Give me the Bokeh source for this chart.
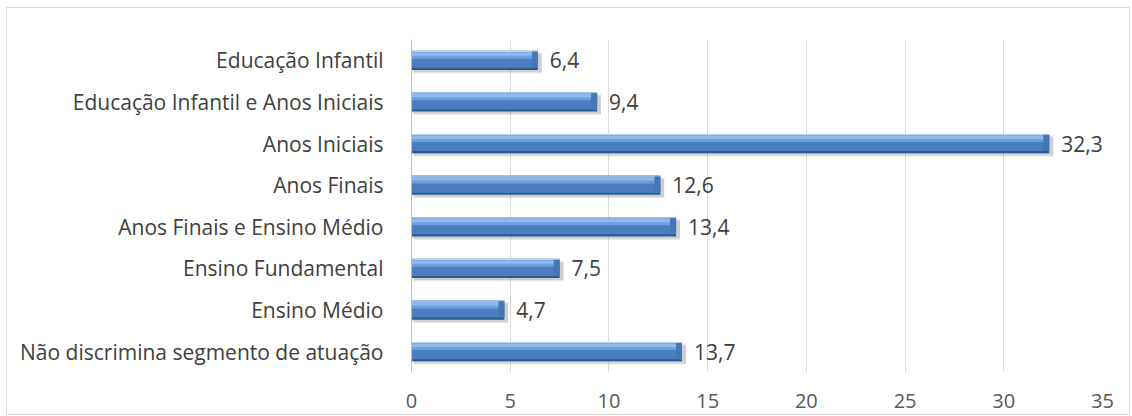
from bokeh.plotting import figure
from bokeh.models import ColumnDataSource, FactorRange, Range1d, FixedTicker
from bokeh.transform import dodge
from bokeh.embed import file_html
from bokeh.resources import INLINE
from bokeh.core.properties import value

categories = [
    "Educação Infantil",
    "Educação Infantil e Anos Iniciais",
    "Anos Iniciais",
    "Anos Finais",
    "Anos Finais e Ensino Médio",
    "Ensino Fundamental",
    "Ensino Médio",
    "Não discrimina segmento de atuação",
]
values = [6.4, 9.4, 32.3, 12.6, 13.4, 7.5, 4.7, 13.7]
labels = ["6,4", "9,4", "32,3", "12,6", "13,4", "7,5", "4,7", "13,7"]
x_ticks = [0, 5, 10, 15, 20, 25, 30, 35]

src = ColumnDataSource(dict(
    cat=categories,
    val=values,
    lab=labels,
    shadow_right=[v + 0.2 for v in values],
    bevel_left=[max(v - 0.3, 0) for v in values],
))

p = figure(
    width=1124, height=408,
    y_range=FactorRange(*reversed(categories)),
    x_range=Range1d(0, 35),
    output_backend="svg", toolbar_location=None,
    min_border_left=404, min_border_right=29,
    min_border_top=31, min_border_bottom=44,
    styles={"border": "1px solid #d9d9d9", "margin-left": "6px", "margin-top": "7px"},
)
p.outline_line_color = None
p.background_fill_color = "white"

FS = "21px"
# grid
p.ygrid.grid_line_color = None
p.xgrid.grid_line_color = "#d9d9d9"
p.xgrid.grid_line_width = 1
p.xaxis.ticker = FixedTicker(ticks=x_ticks)
p.xaxis.axis_line_color = None
p.xaxis.major_tick_line_color = None
p.xaxis.minor_tick_line_color = None
p.xaxis.major_label_text_font = "Open Sans"
p.xaxis.major_label_text_font_size = "20px"
p.xaxis.major_label_text_color = "#595959"
p.xaxis.major_label_standoff = 15

p.yaxis.axis_line_color = "#bfbfbf"
p.yaxis.major_tick_line_color = None
p.yaxis.minor_tick_line_color = None
p.yaxis.major_label_text_font = "Open Sans"
p.yaxis.major_label_text_font_size = FS
p.yaxis.major_label_text_color = "#404040"
p.yaxis.major_label_standoff = 22

H = 0.46
yr = p.y_range
# shadow
p.hbar(y=dodge("cat", -0.08, range=yr), left=0.1, right="shadow_right", height=H,
       source=src, fill_color="#7f7f7f", fill_alpha=0.22, line_color=None)
p.hbar(y=dodge("cat", -0.05, range=yr), left=0.05, right="shadow_right", height=H,
       source=src, fill_color="#7f7f7f", fill_alpha=0.2, line_color=None)
# dark base
p.hbar(y="cat", left=0, right="val", height=H, source=src,
       fill_color="#2e5a8f", line_color=None)
# main body
p.hbar(y=dodge("cat", 0.015, range=yr), left=0, right="val", height=H - 0.07, source=src,
       fill_color="#4a7ec0", line_color=None)
# upper lighter band
p.hbar(y=dodge("cat", 0.12, range=yr), left=0, right="val", height=0.16, source=src,
       fill_color="#6c9fdc", line_color=None)
# highlight
p.hbar(y=dodge("cat", 0.15, range=yr), left=0, right="val", height=0.08, source=src,
       fill_color="#8fbaee", line_color=None)
# top edge
p.hbar(y=dodge("cat", 0.215, range=yr), left=0, right="val", height=0.03, source=src,
       fill_color="#b5d1f3", line_color=None)
# right bevel
p.hbar(y=dodge("cat", 0.015, range=yr), left="bevel_left", right="val", height=H - 0.07, source=src,
       fill_color="#4577b6", line_color=None)

p.text(x="val", y="cat", text="lab", source=src, x_offset=12,
       text_align="left", text_baseline="middle",
       text_font=value("Open Sans"), text_font_size=FS, text_color="#404040")

open("out.html", "w").write(file_html(p, INLINE))
